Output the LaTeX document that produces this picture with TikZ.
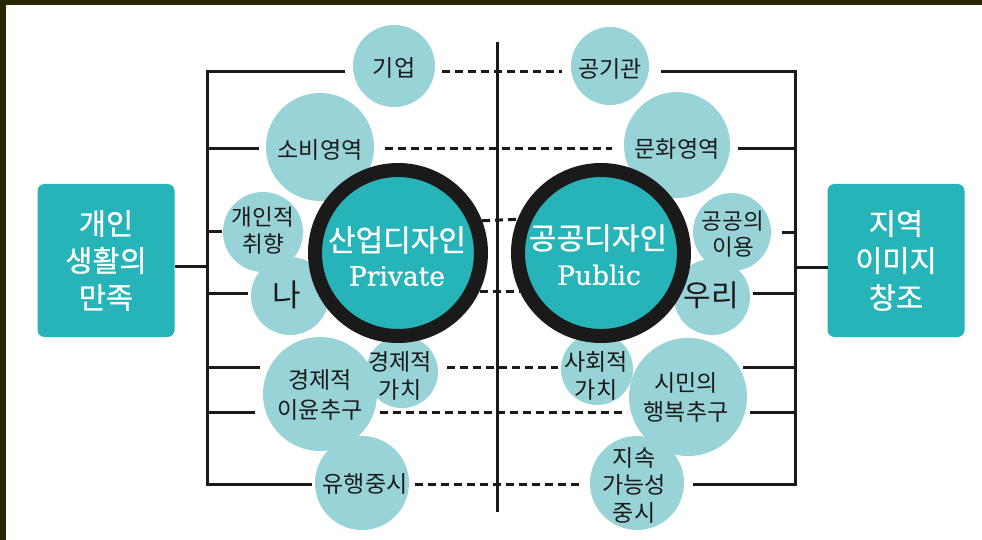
\documentclass[tikz,border=0pt]{standalone}
\usepackage{fontspec}
\newfontfamily\kr{Noto Sans CJK KR}
\newfontfamily\krb{Noto Sans CJK KR}[FakeBold=0.8]
\newfontfamily\enserif{DejaVu Serif}[FakeBold=0.6]
\definecolor{framecol}{RGB}{42,40,0}
\definecolor{tealmain}{RGB}{38,180,185}
\definecolor{tealpale}{RGB}{152,212,215}
\definecolor{ink}{RGB}{26,26,26}
\begin{document}
\begin{tikzpicture}[x=1pt,y=-1pt,
  bubble/.style={circle,fill=tealpale,inner sep=0pt,outer sep=0pt,minimum size=#1},
  btxt/.style={inner sep=0pt,align=center,text=ink,font=\kr\fontsize{23}{28}\selectfont},
  bigc/.style={circle,fill=tealmain,draw=ink,line width=14pt,minimum size=166pt,inner sep=0pt},
  bigk/.style={inner sep=0pt,text=white,font=\krb\fontsize{30}{32}\selectfont},
  bige/.style={inner sep=0pt,text=white,font=\enserif\fontsize{26.5}{28}\selectfont},
  sidebox/.style={rounded corners=7pt,fill=tealmain,minimum width=137pt,minimum height=153pt,inner sep=0pt,outer sep=0pt,align=center,text=white,font=\krb\fontsize{29.5}{37}\selectfont},
  br/.style={draw=ink,line width=3pt},
  dl/.style={draw=ink,line width=3pt,dash pattern=on 8pt off 5pt},
]
\useasboundingbox (0,0) rectangle (982,540);
\fill[framecol] (0,0) rectangle (982,540);
\fill[white] (6,5) rectangle (982,540);

% side boxes
\node[sidebox] (lbox) at (106,260.5) {개인\\생활의\\만족};
\node[sidebox] (rbox) at (896,260.5) {지역\\이미지\\창조};

% pale bubbles
\node[bubble=82pt] (giup) at (394,66) {};
\node[bubble=78pt] (gigwan) at (610,66) {};
\node[bubble=108pt] (sobi) at (320,147) {};
\node[bubble=106pt] (munhwa) at (677,145) {};
\node[bubble=80pt] (chwihyang) at (263,232) {};
\node[bubble=78pt] (iyong) at (732,232) {};
\node[bubble=78pt] (na) at (290,296) {};
\node[bubble=76pt] (uri) at (712,297) {};
\node[bubble=114pt] (iyun) at (320,394) {};
\node[bubble=118pt] (haengbok) at (688,397) {};
\node[bubble=72pt] (gyeongchi) at (402,372) {};
\node[bubble=72pt] (sahoe) at (597,369) {};
\node[bubble=94pt] (yuhaeng) at (362,483) {};
\node[bubble=94pt] (jisok) at (637,483) {};

% big circles
\node[bigc] (lbig) at (398,253) {};
\node[bigc] (rbig) at (601,253) {};

% texts
\node[btxt] (tgiup) at (394,68) {기업};
\node[btxt] (tgigwan) at (610,69) {공기관};
\node[btxt] (tsobi) at (320,150) {소비영역};
\node[btxt] (tmunhwa) at (677,149) {문화영역};
\node[btxt,font=\kr\fontsize{22.5}{27}\selectfont] (tchwi) at (263,231) {개인적\\취향};
\node[btxt,font=\kr\fontsize{22.5}{26}\selectfont] (tiyong) at (733,234) {공공의\\이용};
\node[btxt,font=\kr\fontsize{31}{32}\selectfont] (tna) at (287,295) {나};
\node[btxt,font=\kr\fontsize{30}{32}\selectfont] (turi) at (711,295) {우리};
\node[btxt] (tgyeong) at (400,376) {경제적\\가치};
\node[btxt] (tsahoe) at (596,376) {사회적\\가치};
\node[btxt,font=\kr\fontsize{23}{30}\selectfont] (tiyun) at (320,395) {경제적\\이윤추구};
\node[btxt,font=\kr\fontsize{23}{29}\selectfont] (thaeng) at (686,397) {시민의\\행복추구};
\node[btxt] (tyuhaeng) at (365,484) {유행중시};
\node[btxt,font=\kr\fontsize{23}{27.5}\selectfont] (tjisok) at (634,485) {지속\\가능성\\중시};
\node[bigk] (tl1) at (397,240) {산업디자인};
\node[bige] (tl2) at (397,276) {Private};
\node[bigk] (tr1) at (598,238) {공공디자인};
\node[bige] (tr2) at (599,275) {Public};

% centre line
\coordinate (ctop) at (497,42);
\coordinate (cbot) at (497,512);
\draw[br] (ctop) -- (cbot);

% dashed rows
\coordinate (d1) at (0,72);
\coordinate (d2) at (0,149);
\coordinate (d5) at (0,367);
\coordinate (d6) at (0,412);
\coordinate (d7) at (0,484);
\draw[dl,shorten <=7pt,shorten >=9pt] (giup.east |- d1) -- (gigwan.west |- d1);
\draw[dl,shorten <=11pt,shorten >=12pt] (sobi.east |- d2) -- (munhwa.west |- d2);
\draw[dl] (lbig.21.5) -- (rbig.158.5);
\draw[dl] (lbig.-25.7) -- (rbig.205.7);
\draw[dl,shorten <=9pt,shorten >=3pt] (gyeongchi.east |- d5) -- (sahoe.west |- d5);
\draw[dl,shorten <=3pt,shorten >=2pt] (iyun.east |- d6) -- (haengbok.west |- d6);
\draw[dl,shorten <=6pt,shorten >=7pt] (yuhaeng.east |- d7) -- (jisok.west |- d7);

% left bracket
\coordinate (L1) at (207,72);
\coordinate (L2) at (207,149);
\coordinate (L3) at (207,231);
\coordinate (Lm) at (207,266);
\coordinate (L4) at (207,293);
\coordinate (L5) at (207,367);
\coordinate (L6) at (207,412);
\coordinate (L7) at (207,484);
\draw[br,shorten <=8pt,shorten >=3pt] (giup.west |- L1) -- (L1) -- (L7) -- (yuhaeng.west |- L7);
\draw[br,shorten >=7pt] (L2) -- (sobi.west |- L2);
\draw[br,shorten >=1pt] (L3) -- (chwihyang.west |- L3);
\draw[br,shorten >=3pt] (L4) -- (na.west |- L4);
\draw[br,shorten >=3pt] (L5) -- (iyun.west |- L5);
\draw[br,shorten >=8pt] (L6) -- (iyun.west |- L6);
\draw[br] (lbox.east |- Lm) -- (Lm);

% right bracket
\coordinate (R1) at (795,72);
\coordinate (R2) at (795,149);
\coordinate (R3) at (795,232);
\coordinate (Rm) at (795,267);
\coordinate (R4) at (795,293);
\coordinate (R5) at (795,367);
\coordinate (R6) at (795,412);
\coordinate (R7) at (795,484);
\draw[br,shorten <=12pt,shorten >=9pt] (gigwan.east |- R1) -- (R1) -- (R7) -- (jisok.east |- R7);
\draw[br,shorten >=8pt] (R2) -- (munhwa.east |- R2);
\draw[br,shorten >=11pt] (R3) -- (iyong.east |- R3);
\draw[br,shorten >=3pt] (R4) -- (uri.east |- R4);
\draw[br,shorten >=-4pt] (R5) -- (haengbok.east |- R5);
\draw[br,shorten >=3pt] (R6) -- (haengbok.east |- R6);
\draw[br] (rbox.west |- Rm) -- (Rm);
\end{tikzpicture}
\end{document}
